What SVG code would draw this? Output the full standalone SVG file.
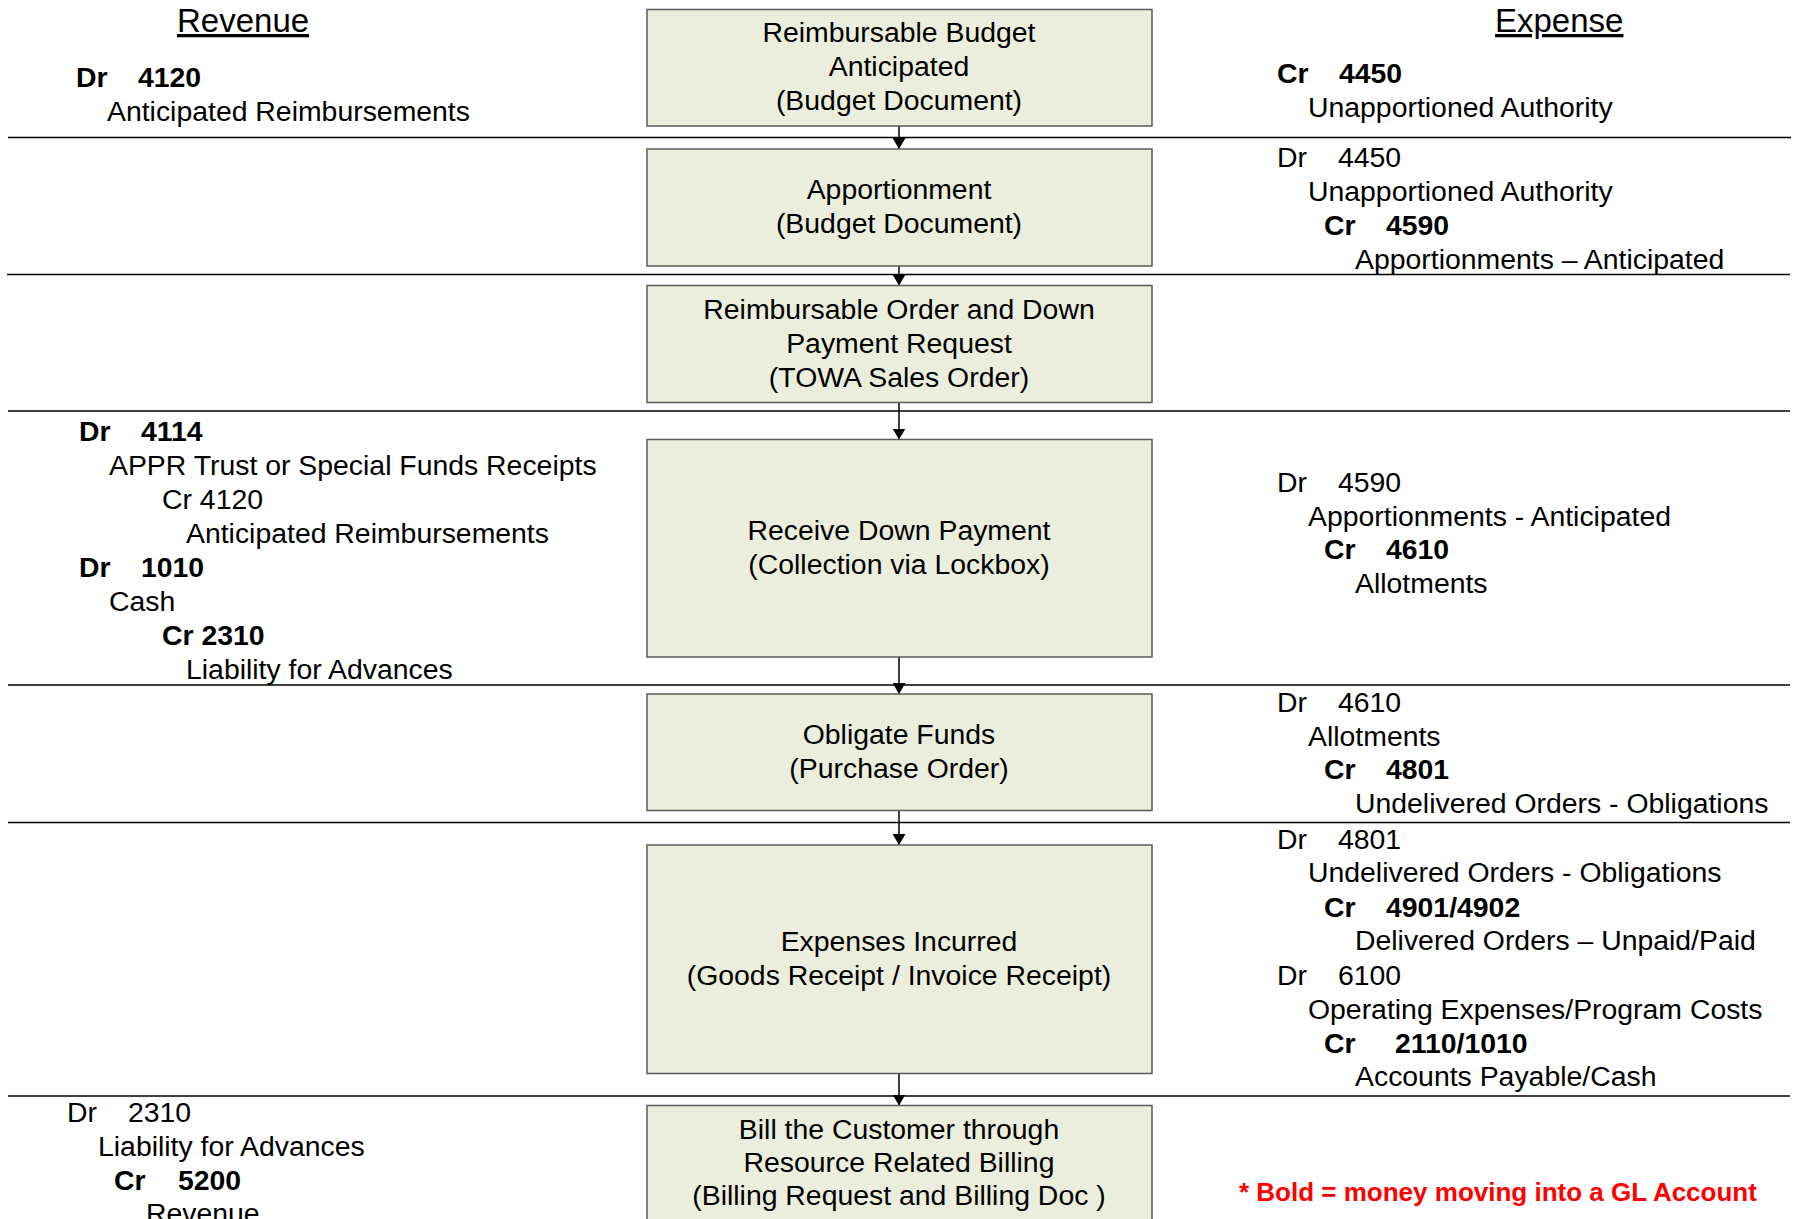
<svg xmlns="http://www.w3.org/2000/svg" width="1798" height="1219" viewBox="0 0 1798 1219">
<style>
.box{fill:#EBEEDC;stroke:#5A5A5A;stroke-width:1.5}
.bt{font-family:"Liberation Sans",Arial,sans-serif;font-size:28.4px;text-anchor:middle;fill:#000}
.t{font-family:"Liberation Sans",Arial,sans-serif;font-size:28.4px;fill:#000}
.b{font-weight:bold}
.hd{font-family:"Liberation Sans",Arial,sans-serif;font-size:33px;fill:#000;text-decoration:underline}
.red{font-family:"Liberation Sans",Arial,sans-serif;font-size:26px;font-weight:bold;fill:#FF0000}
.div{stroke:#000;stroke-width:1.5}
.conn{stroke:#000;stroke-width:1.5;fill:none;marker-end:url(#ah)}
</style>
<defs>
<marker id="ah" viewBox="0 0 11 13" refX="11" refY="6.5" markerWidth="11" markerHeight="13" markerUnits="userSpaceOnUse" orient="auto">
<path d="M0,0 L11,6.5 L0,13 z" fill="#000"/>
</marker>
</defs>
<rect width="1798" height="1219" fill="#fff"/>

<g id="dividers">
<line class="div" x1="8" y1="137.5" x2="1791" y2="137.5"/>
<line class="div" x1="7" y1="274.5" x2="1790" y2="274.5"/>
<line class="div" x1="8" y1="411" x2="1790" y2="411"/>
<line class="div" x1="8" y1="685" x2="1790" y2="685"/>
<line class="div" x1="8" y1="822.5" x2="1790" y2="822.5"/>
<line class="div" x1="8" y1="1096" x2="1790" y2="1096"/>
</g>

<g id="connectors">
<line class="conn" x1="899" y1="126" x2="899" y2="149"/>
<line class="conn" x1="899" y1="266" x2="899" y2="285.5"/>
<line class="conn" x1="899" y1="402.5" x2="899" y2="439.5"/>
<line class="conn" x1="899" y1="657" x2="899" y2="694"/>
<line class="conn" x1="899" y1="810.5" x2="899" y2="845"/>
<line class="conn" x1="899" y1="1073.5" x2="899" y2="1105.5"/>
</g>

<g id="node1">
<rect class="box" x="647" y="9.5" width="505" height="116.5"/>
<text class="bt" x="899" y="42">Reimbursable Budget</text>
<text class="bt" x="899" y="76">Anticipated</text>
<text class="bt" x="899" y="110">(Budget Document)</text>
</g>
<g id="node2">
<rect class="box" x="647" y="149" width="505" height="117"/>
<text class="bt" x="899" y="199">Apportionment</text>
<text class="bt" x="899" y="233">(Budget Document)</text>
</g>
<g id="node3">
<rect class="box" x="647" y="285.5" width="505" height="117"/>
<text class="bt" x="899" y="319">Reimbursable Order and Down</text>
<text class="bt" x="899" y="353">Payment Request</text>
<text class="bt" x="899" y="387">(TOWA Sales Order)</text>
</g>
<g id="node4">
<rect class="box" x="647" y="439.5" width="505" height="217.5"/>
<text class="bt" x="899" y="539.5">Receive Down Payment</text>
<text class="bt" x="899" y="573.5">(Collection via Lockbox)</text>
</g>
<g id="node5">
<rect class="box" x="647" y="694" width="505" height="116.5"/>
<text class="bt" x="899" y="743.5">Obligate Funds</text>
<text class="bt" x="899" y="777.5">(Purchase Order)</text>
</g>
<g id="node6">
<rect class="box" x="647" y="845" width="505" height="228.5"/>
<text class="bt" x="899" y="951">Expenses Incurred</text>
<text class="bt" x="899" y="985">(Goods Receipt / Invoice Receipt)</text>
</g>
<g id="node7">
<rect class="box" x="647" y="1105.5" width="505" height="130"/>
<text class="bt" x="899" y="1138.5">Bill the Customer through</text>
<text class="bt" x="899" y="1171.5">Resource Related Billing</text>
<text class="bt" x="899" y="1204.5">(Billing Request and Billing Doc )</text>
</g>

<g id="revenue">
<text class="hd" x="177" y="32">Revenue</text>
<text class="t b" y="87"><tspan x="76">Dr</tspan><tspan x="138">4120</tspan></text>
<text class="t" x="107" y="120.5">Anticipated Reimbursements</text>

<text class="t b" y="441"><tspan x="79">Dr</tspan><tspan x="141">4114</tspan></text>
<text class="t" x="109" y="475">APPR Trust or Special Funds Receipts</text>
<text class="t" x="162" y="509">Cr 4120</text>
<text class="t" x="186" y="543">Anticipated Reimbursements</text>
<text class="t b" y="577"><tspan x="79">Dr</tspan><tspan x="141">1010</tspan></text>
<text class="t" x="109" y="611">Cash</text>
<text class="t b" x="162" y="645">Cr 2310</text>
<text class="t" x="186" y="678.5">Liability for Advances</text>

<text class="t" y="1122"><tspan x="67">Dr</tspan><tspan x="128">2310</tspan></text>
<text class="t" x="98" y="1156">Liability for Advances</text>
<text class="t b" y="1189.5"><tspan x="114">Cr</tspan><tspan x="178">5200</tspan></text>
<text class="t" x="146" y="1223">Revenue</text>
</g>

<g id="expense">
<text class="hd" x="1495" y="32">Expense</text>
<text class="t b" y="82.5"><tspan x="1277">Cr</tspan><tspan x="1339">4450</tspan></text>
<text class="t" x="1308" y="117">Unapportioned Authority</text>

<text class="t" y="167"><tspan x="1277">Dr</tspan><tspan x="1338">4450</tspan></text>
<text class="t" x="1308" y="200.5">Unapportioned Authority</text>
<text class="t b" y="235"><tspan x="1324">Cr</tspan><tspan x="1386">4590</tspan></text>
<text class="t" x="1355" y="268.5">Apportionments – Anticipated</text>

<text class="t" y="492"><tspan x="1277">Dr</tspan><tspan x="1338">4590</tspan></text>
<text class="t" x="1308" y="525.5">Apportionments - Anticipated</text>
<text class="t b" y="558.5"><tspan x="1324">Cr</tspan><tspan x="1386">4610</tspan></text>
<text class="t" x="1355" y="592.5">Allotments</text>

<text class="t" y="712"><tspan x="1277">Dr</tspan><tspan x="1338">4610</tspan></text>
<text class="t" x="1308" y="745.5">Allotments</text>
<text class="t b" y="779"><tspan x="1324">Cr</tspan><tspan x="1386">4801</tspan></text>
<text class="t" x="1355" y="812.5">Undelivered Orders - Obligations</text>

<text class="t" y="848.5"><tspan x="1277">Dr</tspan><tspan x="1338">4801</tspan></text>
<text class="t" x="1308" y="882">Undelivered Orders - Obligations</text>
<text class="t b" y="916.5"><tspan x="1324">Cr</tspan><tspan x="1386">4901/4902</tspan></text>
<text class="t" x="1355" y="950">Delivered Orders – Unpaid/Paid</text>
<text class="t" y="984.5"><tspan x="1277">Dr</tspan><tspan x="1338">6100</tspan></text>
<text class="t" x="1308" y="1018.5">Operating Expenses/Program Costs</text>
<text class="t b" y="1052.5"><tspan x="1324">Cr</tspan><tspan x="1395">2110/1010</tspan></text>
<text class="t" x="1355" y="1086">Accounts Payable/Cash</text>

<text class="red" x="1239" y="1201">* Bold = money moving into a GL Account</text>
</g>
</svg>
